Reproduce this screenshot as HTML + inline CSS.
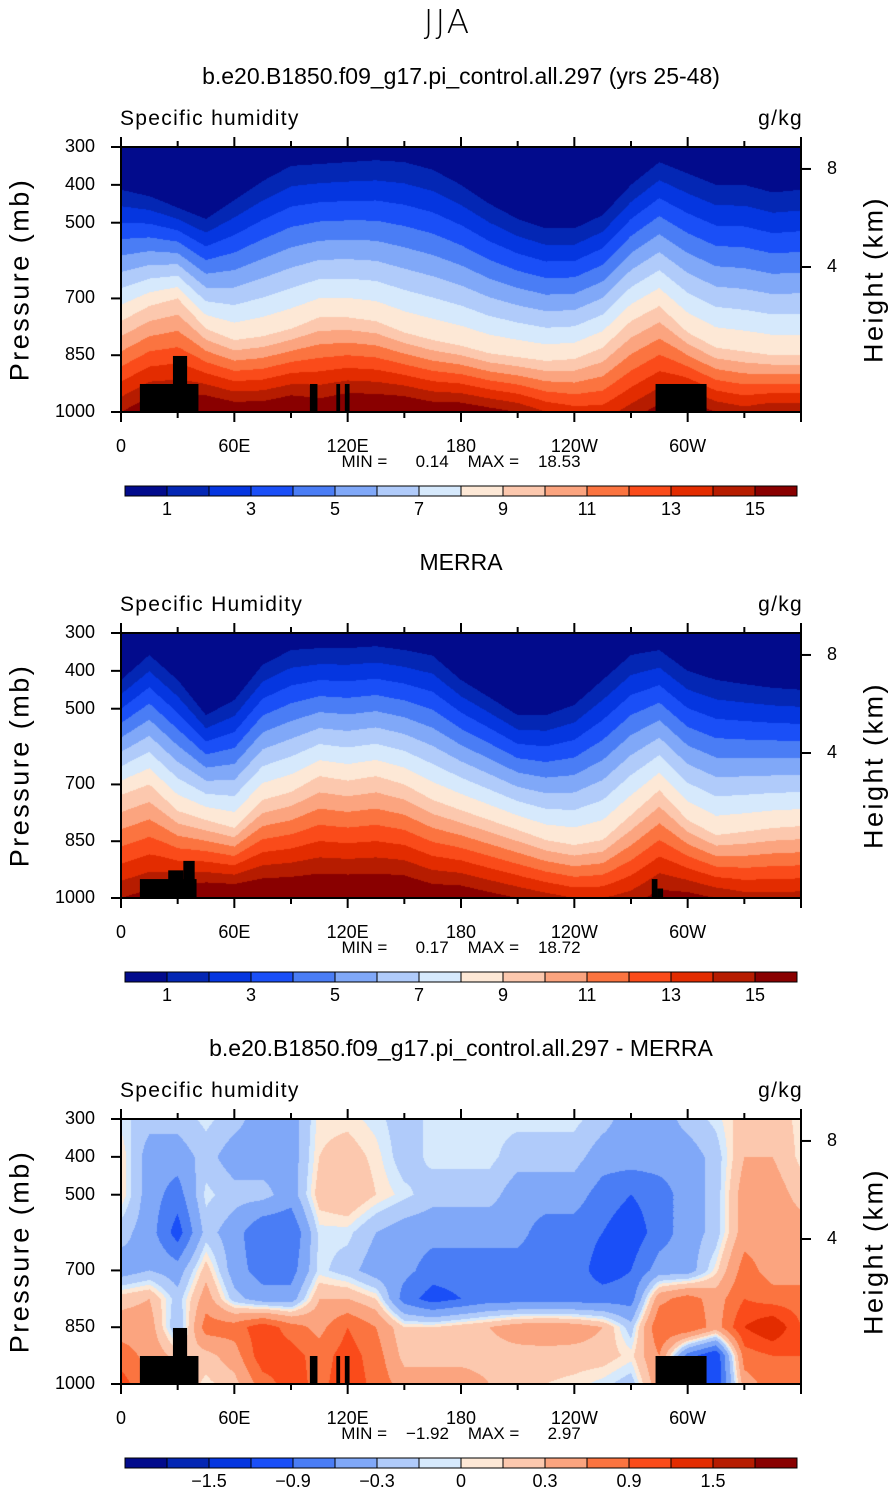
<!DOCTYPE html>
<html><head><meta charset="utf-8"><style>
body{margin:0;background:#fff;width:895px;height:1493px;position:relative;overflow:hidden;font-family:"Liberation Sans","DejaVu Sans",sans-serif;color:#000}
.t{position:absolute;white-space:nowrap}
canvas{position:absolute}
svg{position:absolute;left:0;top:0}
</style></head><body>
<div class="t" style="left:0;width:895px;text-align:center;top:2px;font-size:33px;font-family:'DejaVu Sans',sans-serif;font-weight:200;letter-spacing:2px">JJA</div>
<div id="root"></div>
<script>
// ---- data: panel 1 (model) contour anchors by longitude ----
const lons = [0,15,30,45,60,75,90,105,120,135,150,165,180,195,210,225,240,255,270,285,300,315,330,345,360];
const p1Model = [413,430,460,490,440,390,350,345,340,335,340,360,400,450,490,515,515,480,400,340,370,400,400,420,413];
const p9Model = [760,720,700,780,810,800,780,750,750,760,790,810,825,845,855,865,860,830,760,720,790,830,840,850,850];
const qsModel = [15,16,16,16.5,16,16,16.5,16,16.5,16.5,16.5,16,16,15.5,15,14,13.5,13.5,14.5,15.5,16,15,14.5,15,15];
// ---- panel 2 (MERRA) ----
const p1Obs = [424,358,424,517,477,384,345,340,340,335,345,360,424,470,517,517,490,424,358,345,400,424,435,445,450];
const p9Obs = [728,700,770,794,815,741,720,678,690,678,700,741,768,794,820,847,860,847,781,715,794,834,825,815,810];
const qsObs = [15,15.5,16,16.5,16.5,16.5,16.5,16.5,16.5,16.5,16.5,16,16,15.5,15,14.5,14,14,14.5,15.5,15.5,15,14.5,14.5,14.5];
// ---- panel 3 difference grid: rows = pressures, cols = lons ----
const diffPres = [300,400,500,600,700,775,850,925,1000];
const diffCols = [
[-0.05,0.1,0.1,-0.2,-0.45,0.2,0.45,0.75,1.05],
[-0.2,-0.45,-0.45,-0.45,-0.3,0.3,0.45,0.5,0.6],
[-0.2,-0.45,-0.75,-1.05,-0.45,-0.2,-0.3,0.2,0.3],
[-0.05,-0.2,-0.05,-0.2,0.2,0.45,0.75,0.2,0.05],
[-0.2,-0.45,-0.2,-0.45,-0.45,-0.2,0.75,0.45,0.2],
[-0.45,-0.45,-0.2,-0.9,-0.75,-0.45,1.1,1.1,0.75],
[-0.45,-0.45,-0.45,-0.9,-0.75,-0.45,0.75,1.05,1.05],
[0.05,0.1,0.2,-0.05,-0.05,0.3,0.5,0.75,0.8],
[0.05,0.2,0.3,-0.05,-0.2,0.3,0.9,1.05,1.1],
[-0.05,0.05,0.1,-0.3,-0.45,0.1,0.6,0.75,0.8],
[-0.2,-0.2,-0.05,-0.45,-0.5,-0.75,0.1,0.2,0.45],
[-0.05,-0.05,-0.2,-0.5,-0.75,-1.05,0.1,0.2,0.45],
[-0.05,-0.05,-0.2,-0.5,-0.75,-0.9,0.2,0.2,0.45],
[-0.05,-0.05,-0.2,-0.5,-0.75,-0.75,0.3,0.2,0.3],
[-0.05,-0.2,-0.45,-0.5,-0.75,-0.75,0.45,0.2,0.2],
[-0.05,-0.2,-0.45,-0.75,-0.75,-0.75,0.5,0.2,0.1],
[-0.05,-0.2,-0.45,-0.75,-0.75,-0.75,0.45,0.2,0.05],
[-0.2,-0.45,-0.75,-0.9,-1.05,-0.75,0.3,0.2,-0.05],
[-0.45,-0.45,-0.9,-1.1,-0.9,-0.75,-0.2,0.05,-0.2],
[-0.45,-0.45,-0.75,-0.75,-0.45,0.5,0.9,0.6,0.5],
[-0.2,-0.45,-0.45,-0.45,-0.45,0.75,0.9,-0.75,-0.9],
[-0.05,-0.2,-0.2,-0.2,0.05,0.45,0.45,-1.2,-1.2],
[0.2,0.3,0.45,0.45,0.75,0.9,1.2,0.75,0.45],
[0.2,0.3,0.45,0.45,0.45,0.75,1.5,0.9,0.75],
[0.05,0.05,0.2,0.45,0.45,0.75,0.9,0.9,0.9]];
// terrain masks [lonStart, lonEnd, topPressure]
const maskModel = [[10,41,926],[27.5,35,852],[100,104,926],[114,116,926],[118.5,121,926],[283,310,926]];
const maskObs = [[10,40,950],[25,33,927],[33,39,902],[281,284,950],[284,287,975]];
// colorbars
const levelsQ = [1,2,3,4,5,6,7,8,9,10,11,12,13,14,15];
const levelsD = [-1.8,-1.5,-1.2,-0.9,-0.6,-0.3,-0.1,0,0.1,0.3,0.6,0.9,1.2,1.5,1.8];
const labelsQ = ['1','3','5','7','9','11','13','15'];
const labelsD = ['\u22121.5','\u22120.9','\u22120.3','0','0.3','0.9','1.5'];
const palette = ['#020b8c','#0427b4','#0536e0','#1a4ff7','#4a7df5','#80a8f8','#b0cbfa','#d6e9fc','#fde8d6','#fcc8ae','#fba47f','#fb7440','#fa4b1a','#e32c00','#b61c00','#890000'];
const lonTicks = [0,60,120,180,240,300];
const lonLabels = ['0','60E','120E','180','120W','60W'];
const presTicks = [300,400,500,700,850,1000];
const heightTicks = [8,4];
const heightPres = [358,617];

const X0=121,X1=801,PW=680,PH=265;
function xOf(lon){return X0+lon/360*PW;}
function yOf(p,top){return top+(p-300)/700*PH;}
function hexRgb(h){return [parseInt(h.substr(1,2),16),parseInt(h.substr(3,2),16),parseInt(h.substr(5,2),16)];}
const rgb = palette.map(hexRgb);
function band(v,lv){let k=0;while(k<lv.length&&v>=lv[k])k++;return k;}
function lerpArr(a,lon){const f=lon/15;const i=Math.min(Math.floor(f),a.length-2);const t=f-i;return a[i]*(1-t)+a[i+1]*t;}
function qProfile(p1,p9,qs,p){
  if(p<=p1) return 1-0.6*(p1-p)/Math.max(p1-300,1);
  if(p<=p9) return 1+8*(p-p1)/(p9-p1);
  return 9+(qs-9)*(p-p9)/(1000-p9);
}
function diffVal(lon,p){
  const f=lon/15;const i=Math.min(Math.floor(f),diffCols.length-2);const t=f-i;
  let j=0;while(j<diffPres.length-2&&p>diffPres[j+1])j++;
  const u=(p-diffPres[j])/(diffPres[j+1]-diffPres[j]);
  const a=diffCols[i][j]*(1-u)+diffCols[i][j+1]*u;
  const b=diffCols[i+1][j]*(1-u)+diffCols[i+1][j+1]*u;
  return a*(1-t)+b*t;
}
const root=document.getElementById('root');
function txt(name,s,l,t,fs,align,extra){
  const d=document.createElement('div');d.className='t';
  
  
  d.textContent=s;d.style.top=t+'px';d.style.fontSize=fs+'px';
  if(align==='c'){d.style.left=(l-200)+'px';d.style.width='400px';d.style.textAlign='center';}
  else if(align==='r'){d.style.left=(l-200)+'px';d.style.width='200px';d.style.textAlign='right';}
  else d.style.left=l+'px';
  if(extra)d.style.cssText+=extra;
  root.appendChild(d);return d;
}
function panel(idx,top,title,fieldFn,masks,levels,labels,minmax){
  const cv=document.createElement('canvas');cv.width=PW;cv.height=PH;
  cv.style.left=X0+'px';cv.style.top=top+'px';
  
  
  root.appendChild(cv);
  const ctx=cv.getContext('2d');const img=ctx.createImageData(PW,PH);
  for(let x=0;x<PW;x++){
    const lon=(x+0.5)/PW*360;
    const col=fieldFn(lon);
    for(let y=0;y<PH;y++){
      const p=300+(y+0.5)/PH*700;
      const c=rgb[band(col(p),levels)];
      const o=(y*PW+x)*4;img.data[o]=c[0];img.data[o+1]=c[1];img.data[o+2]=c[2];img.data[o+3]=255;
    }
  }
  ctx.putImageData(img,0,0);
  const ns='http://www.w3.org/2000/svg';
  const svg=document.createElementNS(ns,'svg');svg.setAttribute('width',895);svg.setAttribute('height',1493);
  
  
  function el(tag,attrs,name){const e=document.createElementNS(ns,tag);for(const k in attrs)e.setAttribute(k,attrs[k]);
    
    
    svg.appendChild(e);return e;}
  masks.forEach(m=>{el('rect',{x:xOf(m[0]),y:yOf(m[2],top),width:xOf(m[1])-xOf(m[0]),height:yOf(1000,top)-yOf(m[2],top),fill:'#000'},'terrain-mask');});
  el('rect',{x:X0,y:top,width:PW,height:PH,fill:'none',stroke:'#000','stroke-width':2},'plot-frame');
  for(let lon=0;lon<=360;lon+=30){const x=xOf(lon);const L=lon%60===0?10:6;
    el('line',{x1:x,y1:top,x2:x,y2:top-L,stroke:'#000','stroke-width':2},'top-tick');
    el('line',{x1:x,y1:top+PH,x2:x,y2:top+PH+L,stroke:'#000','stroke-width':2},'bottom-tick');}
  presTicks.forEach(p=>{el('line',{x1:X0,y1:yOf(p,top),x2:X0-10,y2:yOf(p,top),stroke:'#000','stroke-width':2},'pressure-tick');});
  heightPres.forEach(p=>{el('line',{x1:X1,y1:yOf(p,top),x2:X1+10,y2:yOf(p,top),stroke:'#000','stroke-width':2},'height-tick');});
  const cbT=top+339,cbL=125,bw=42;
  palette.forEach((c,i)=>{el('rect',{x:cbL+i*bw,y:cbT,width:bw,height:10,fill:c,stroke:'#000','stroke-width':1},'colorbar-box');});
  root.appendChild(svg);
  txt('panel-title-'+idx,title,461,top-84,23,'c','width:800px;left:61px');
  txt('variable-label',idx===2?'Specific Humidity':'Specific humidity',120,top-40,21,'l','letter-spacing:1.3px');
  txt('units-label','g/kg',803,top-40,21,'r','letter-spacing:1.3px');
  presTicks.forEach(p=>txt('pressure-tick-label',String(p),95,yOf(p,top)-11,18,'r'));
  heightTicks.forEach((h,i)=>txt('height-tick-label',String(h),827,yOf(heightPres[i],top)-11,18,'l'));
  lonTicks.forEach((l,i)=>txt('lon-tick-label',lonLabels[i],xOf(l),top+289,18,'c'));
  txt('min-max-label',minmax,461,top+305,17,'c','white-space:pre');
  txt('y-axis-title','Pressure (mb)',20,top+132-15,27,'c','transform:rotate(-90deg);letter-spacing:2.5px');
  txt('y2-axis-title','Height (km)',874,top+132-15,27,'c','transform:rotate(-90deg);letter-spacing:2.5px');
  const step=levels===levelsQ?[0,2,4,6,8,10,12,14]:[1,3,5,7,9,11,13];
  labels.forEach((s,i)=>txt('colorbar-label',s,cbL+(step[i]+1)*bw,cbT+13,18,'c'));
}
function qField(p1a,p9a,qsa){return lon=>{const p1=lerpArr(p1a,lon),p9=lerpArr(p9a,lon),qs=lerpArr(qsa,lon);return p=>qProfile(p1,p9,qs,p);};}
panel(1,147,'b.e20.B1850.f09_g17.pi_control.all.297 (yrs 25-48)',qField(p1Model,p9Model,qsModel),maskModel,levelsQ,labelsQ,'MIN =      0.14    MAX =    18.53');
panel(2,633,'MERRA',qField(p1Obs,p9Obs,qsObs),maskObs,levelsQ,labelsQ,'MIN =      0.17    MAX =    18.72');
panel(3,1119,'b.e20.B1850.f09_g17.pi_control.all.297 - MERRA',lon=>p=>diffVal(lon,p),maskModel,levelsD,labelsD,'MIN =    \u22121.92    MAX =      2.97');
</script>
</body></html>
